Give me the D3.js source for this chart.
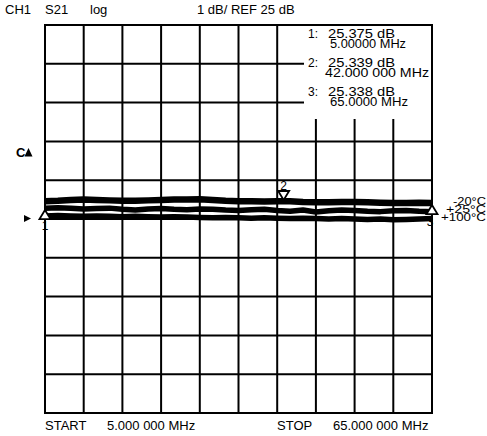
<!DOCTYPE html>
<html>
<head>
<meta charset="utf-8">
<script src="https://cdn.jsdelivr.net/npm/d3@7"></script>
<style>
  body { margin: 0; background: #fff; }
  svg { display: block; }
  text { font-family: "Liberation Sans", Arial, sans-serif; fill: #000; }
</style>
</head>
<body>
<div id="wrapper"></div>
<script>
// sweep points (MHz)
const freqs = [5, 7, 9, 11, 13, 15, 17, 19, 21, 23, 25, 27, 29, 31, 33, 35, 37, 39, 41, 43, 45, 47, 49, 51, 53, 55, 57, 59, 61, 63, 65];
// S21 magnitude (dB) per temperature
const tMinus20 = [25.46, 25.47, 25.49, 25.50, 25.49, 25.48, 25.47, 25.47, 25.48, 25.49, 25.50, 25.50, 25.51, 25.49, 25.47, 25.46, 25.46, 25.45, 25.46, 25.46, 25.44, 25.43, 25.43, 25.44, 25.44, 25.43, 25.42, 25.41, 25.41, 25.42, 25.41];
const tPlus25 = [25.28, 25.29, 25.28, 25.26, 25.27, 25.28, 25.25, 25.23, 25.26, 25.27, 25.25, 25.24, 25.26, 25.25, 25.23, 25.22, 25.24, 25.25, 25.22, 25.20, 25.23, 25.18, 25.21, 25.23, 25.22, 25.20, 25.19, 25.21, 25.22, 25.20, 25.19];
const tPlus100 = [25.08, 25.09, 25.08, 25.07, 25.08, 25.07, 25.06, 25.07, 25.06, 25.05, 25.06, 25.05, 25.04, 25.03, 25.04, 25.03, 25.02, 25.03, 25.02, 25.01, 25.02, 25.01, 25.00, 25.01, 25.00, 24.99, 25.00, 24.98, 24.99, 25.00, 25.01];
const traceLabels = ["-20°C", "+25°C", "+100°C"];

// markers
const markerIds = ["1", "2", "3"];
const markerFreqs = [5, 42, 65];
const markerSymbolLevel = [25.23, 25.49, 25.36];
const markerDir = ["up", "down", "up"];
const markerReadout = [["25.375 dB", "5.00000 MHz"], ["25.339 dB", "42.000 000 MHz"], ["25.338 dB", "65.0000 MHz"]];

const startMHz = 5, stopMHz = 65;
const refLevel = 25, scaleDiv = 1, nDiv = 10;

const dimension = {
    width: 487,
    height: 436,
    margin: { top: 25, left: 45, bottom: 23, right: 55 }
};
dimension.boundedWidth = dimension.width - dimension.margin.left - dimension.margin.right;
dimension.boundedHeight = dimension.height - dimension.margin.top - dimension.margin.bottom;

const svg = d3.select("#wrapper").append("svg")
    .attr("width", dimension.width)
    .attr("height", dimension.height);

const x = d3.scaleLinear()
    .domain([startMHz, stopMHz])
    .range([dimension.margin.left, dimension.margin.left + dimension.boundedWidth]);
const y = d3.scaleLinear()
    .domain([refLevel - 5 * scaleDiv, refLevel + 5 * scaleDiv])
    .range([dimension.margin.top + dimension.boundedHeight, dimension.margin.top]);

// graticule
const grid = svg.append("g").attr("stroke", "#000").attr("stroke-width", 2);
const xDivs = d3.range(1, nDiv).map(i => startMHz + i * (stopMHz - startMHz) / nDiv);
const yDivs = d3.range(1, nDiv).map(i => y.domain()[0] + i * scaleDiv);
grid.selectAll(".vx").data(xDivs).join("line")
    .attr("x1", d => x(d)).attr("x2", d => x(d))
    .attr("y1", y(30)).attr("y2", y(20));
grid.selectAll(".hy").data(yDivs).join("line")
    .attr("x1", x(startMHz)).attr("x2", x(stopMHz))
    .attr("y1", d => y(d)).attr("y2", d => y(d));

// marker readout box blanks the upper right of the graticule
svg.append("rect")
    .attr("x", 304).attr("y", y(30) + 1)
    .attr("width", x(stopMHz) - 305).attr("height", 93)
    .attr("fill", "#fff");

svg.append("rect")
    .attr("x", x(startMHz)).attr("y", y(30))
    .attr("width", x(stopMHz) - x(startMHz)).attr("height", y(20) - y(30))
    .attr("fill", "none").attr("stroke", "#000").attr("stroke-width", 2);

// traces
const lineGen = d3.line()
    .x((d, i) => x(freqs[i]))
    .y(d => y(d));
[[tMinus20, 6.5], [tPlus25, 5.5], [tPlus100, 5.5]].forEach(([s, w]) => {
    svg.append("path")
        .attr("d", lineGen(s))
        .attr("fill", "none")
        .attr("stroke", "#000")
        .attr("stroke-width", w)
        .attr("stroke-linejoin", "round");
});

// marker symbols
markerFreqs.forEach((f, i) => {
    const cx = x(f), tip = y(markerSymbolLevel[i]);
    const h = markerDir[i] === "up" ? 9 : -9;
    svg.append("path")
        .attr("d", `M${cx},${tip} L${cx - 5.5},${tip + h} L${cx + 5.5},${tip + h} Z`)
        .attr("fill", "#fff").attr("stroke", "#000").attr("stroke-width", 1.8);
});
svg.append("text").attr("x", x(5)).attr("y", 230).attr("text-anchor", "middle").style("font-size", "12px").text(markerIds[0]);
svg.append("text").attr("x", x(42)).attr("y", 190).attr("text-anchor", "middle").style("font-size", "12px").text(markerIds[1]);
svg.append("text").attr("x", x(65) - 2).attr("y", 226).attr("text-anchor", "middle").style("font-size", "12px").text(markerIds[2]);

// trace temperature labels
const labelY = [204.5, 212.5, 220.5];
const labelW = [33, 40, 45];
traceLabels.forEach((t, i) => {
    svg.append("text").attr("x", 486 - labelW[i]).attr("y", labelY[i])
        .attr("textLength", labelW[i]).attr("lengthAdjust", "spacingAndGlyphs")
        .style("font-size", "10.5px").text(t);
});

// marker readouts
const valW = [67, 67, 67], freqW = [76, 104, 78];
markerReadout.forEach((r, i) => {
    const base = 38 + i * 29;
    svg.append("text").attr("x", 308).attr("y", base).style("font-size", "12px").text(markerIds[i] + ":");
    svg.append("text").attr("x", 328).attr("y", base).style("font-size", "12px")
        .attr("textLength", valW[i]).attr("lengthAdjust", "spacingAndGlyphs").text(r[0]);
    svg.append("text").attr("x", i === 1 ? 325 : 330).attr("y", base + 10).style("font-size", "12px")
        .attr("textLength", freqW[i]).attr("lengthAdjust", "spacingAndGlyphs").text(r[1]);
});

// header / footer
const header = [["CH1", 5], ["S21", 45], ["log", 90], ["1 dB/ REF 25 dB", 197]];
header.forEach(([t, px]) => svg.append("text").attr("x", px).attr("y", 14).style("font-size", "13px").text(t));
const footer = [["START", 45], ["5.000 000 MHz", 107], ["STOP", 277], ["65.000 000 MHz", 333]];
footer.forEach(([t, px]) => svg.append("text").attr("x", px).attr("y", 430).style("font-size", "13px").text(t));

// channel / reference indicators
svg.append("text").attr("x", 16).attr("y", 157).style("font-size", "13px").style("font-weight", "bold").text("C");
svg.append("path").attr("d", "M28.5,148 L24.5,156.5 L32.5,156.5 Z").attr("fill", "#000");
svg.append("path").attr("d", `M24,${y(refLevel) - 4} L31,${y(refLevel) - 0.5} L24,${y(refLevel) + 3} Z`).attr("fill", "#000");
</script>
</body>
</html>
